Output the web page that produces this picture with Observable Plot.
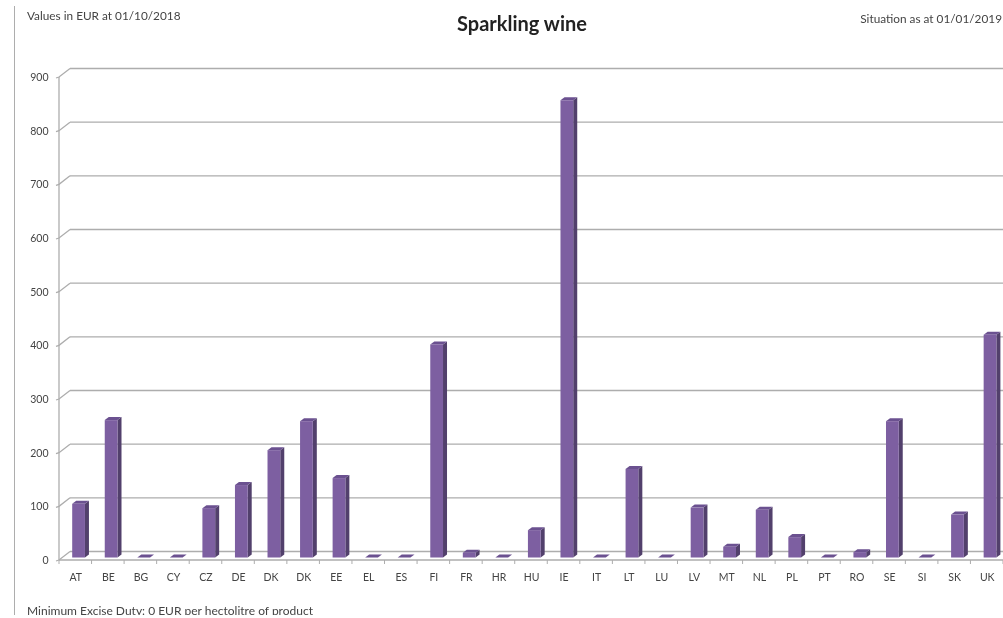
<!DOCTYPE html>
<html>
<head>
<meta charset="utf-8">
<script src="https://cdn.jsdelivr.net/npm/d3@7"></script>
<script src="https://cdn.jsdelivr.net/npm/@observablehq/plot@0.6"></script>
<style>
html,body{margin:0;padding:0;background:#fff;overflow:hidden}
#wrap{position:relative;width:1003px;height:618px;overflow:hidden;font-family:Lato,"Open Sans",sans-serif;color:#444;filter:blur(.6px)}
#wrap svg{position:absolute;left:0;top:0;display:block}
.t{position:absolute;white-space:nowrap;font-size:11.8px;line-height:14px}
#clip{position:absolute;left:0;top:600px;width:1003px;height:15px;overflow:hidden}
</style>
</head>
<body>
<div id="wrap"></div>
<script>
const labels = ["AT","BE","BG","CY","CZ","DE","DK","DK","EE","EL","ES","FI","FR","HR","HU","IE","IT","LT","LU","LV","MT","NL","PL","PT","RO","SE","SI","SK","UK"];
const values = [100,256,0,0,92,135,200,254,148,0,0,397,9,0,51,852,0,165,0,93,20,89,38,0,10,254,0,80,415];
const yTicks = [0,100,200,300,400,500,600,700,800,900];
const titleText = "Sparkling wine";
const leftNote = "Values in EUR at 01/10/2018";
const rightNote = "Situation as at 01/01/2019";
const footNote = "Minimum Excise Duty: 0 EUR per hectolitre of product";

const rows = labels.map((label, i) => ({i, label, value: values[i]}));
const gridColor = "#adadad", front = "#7d5fa1", side = "#52406c", topFace = "#6b5190";
const wallDx = 11, wallDy = -8.5, inset = 9.9, barDx = 3.3, barDy = -2.5, depthX = 4, depthY = 3;

function grid(index, {x, y}, values, dims) {
  const g = d3.create("svg:g").attr("stroke", gridColor).attr("stroke-width", 1.4);
  for (const t of yTicks) {
    g.append("line").attr("x1", x(0) + wallDx).attr("x2", dims.width)
      .attr("y1", y(t) + wallDy).attr("y2", y(t) + wallDy);
  }
  return g.node();
}

// frame of the pseudo-3D plot: side wall connectors, floor and category ticks
function frame(index, {x, y}, values, dims) {
  const g = d3.create("svg:g").attr("fill", "none").attr("stroke", gridColor);
  const step = x(1) - x(0), x0 = x(0);
  for (const t of yTicks) {
    g.append("path").attr("stroke-width", 1.3)
      .attr("d", `M${x0 - 3},${y(t) + 1}L${x0},${y(t)}L${x0 + wallDx},${y(t) + wallDy}`);
  }
  g.append("path").attr("stroke-width", 1.3).attr("d", `M${x0},${y(0)}V${y(900)}`);
  g.append("path").attr("stroke-width", 1.3).attr("d", `M${x0},${y(0)}H${dims.width}`);
  for (let i = 0; i <= labels.length; i++) {
    g.append("path").attr("d", `M${x0 + i * step},${y(0)}v4`);
  }
  return g.node();
}

// side and top faces of each bar, from the same scales as the front faces
function faces(index, {x, y}) {
  const g = d3.create("svg:g");
  const step = x(1) - x(0);
  for (const r of rows) {
    const left = x(r.i) + inset + barDx, right = x(r.i) + step - inset + barDx;
    const top = y(r.value) + barDy, base = y(0) + barDy;
    g.append("path").attr("fill", side)
      .attr("d", `M${right},${top}L${right + depthX},${top - depthY}V${base - depthY}L${right},${base}Z`);
    g.append("path").attr("fill", topFace)
      .attr("d", `M${left},${top}L${left + depthX},${top - depthY}H${right + depthX}L${right},${top}Z`);
  }
  return g.node();
}

const chart = Plot.plot({
  width: 1003, height: 618,
  marginLeft: 59, marginRight: 0, marginTop: 77, marginBottom: 58,
  style: {fontFamily: "Lato, 'Open Sans', sans-serif", fontSize: "10.5px", color: "#444", background: "transparent"},
  x: {type: "band", domain: d3.range(labels.length), padding: 0, round: false, label: null},
  y: {domain: [0, 900], label: null},
  marks: [
    grid,
    frame,
    Plot.axisY({ticks: yTicks, tickSize: 0, tickPadding: 11, anchor: "left", tickFormat: d => d, label: null}),
    Plot.axisX({tickSize: 0, tickPadding: 13, anchor: "bottom", tickFormat: i => labels[i], label: null}),
    faces,
    Plot.barY(rows, {x: "i", y: "value", fill: front, insetLeft: inset, insetRight: inset, dx: barDx, dy: barDy})
  ]
});

const wrap = document.getElementById("wrap");
wrap.appendChild(chart);

const line = document.createElement("div");
line.style.cssText = "position:absolute;left:14px;top:6px;width:1.4px;height:609px;background:#adadad";
wrap.appendChild(line);

function note(text, css, parent = wrap) {
  const d = document.createElement("div");
  d.className = "t"; d.textContent = text; d.style.cssText = css;
  parent.appendChild(d);
}
note(leftNote, "left:27px;top:9px");
note(rightNote, "right:1px;top:12px");
note(titleText, "left:522px;top:12px;transform:translateX(-50%);font-size:20px;line-height:22px;font-weight:700;color:#222");
const clip = document.createElement("div");
clip.id = "clip"; wrap.appendChild(clip);
note(footNote, "left:27px;top:4px;font-size:12px", clip);
</script>
</body>
</html>
